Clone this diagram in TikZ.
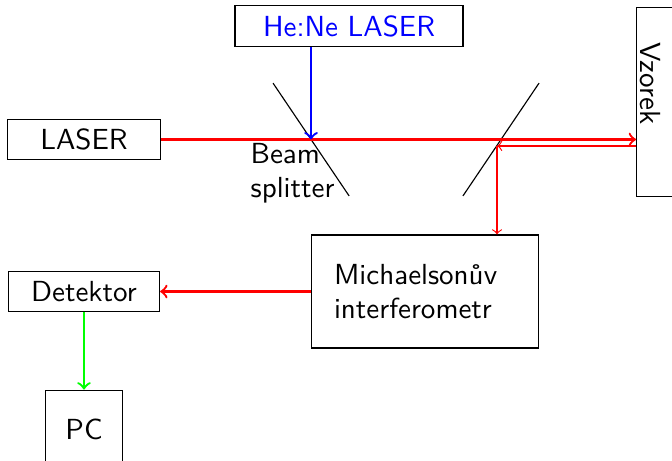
\documentclass[tikz,border=0pt]{standalone}
\usepackage{tikz}
\usetikzlibrary{positioning,calc}

\begin{document}
\begin{tikzpicture}[
    font=\sffamily\fontsize{10.2}{12.2}\selectfont,
    devbox/.style={draw, minimum width=1.88cm, minimum height=0.46cm},
    arrow/.style={->, thick},
    mirror/.style={draw, thin},
]
\useasboundingbox (0,0) rectangle (8.296,5.679);

\node[devbox] (laser) at (1.037,3.957) {LASER};
\node[devbox, text=blue, minimum width=2.815cm, minimum height=0.47cm] (hene) at (4.309,5.358) {He:Ne LASER};
\node[devbox, minimum width=1.865cm, below=1.37cm of laser] (detektor) {Detektor};
\node[devbox, minimum width=0.94cm, minimum height=0.96cm, below=0.96cm of detektor] (pc) {PC};
\node[devbox, text width=2.24cm, align=left, inner xsep=0.28cm, minimum height=1.395cm,
      right=1.86cm of detektor] (mich) {Michaelsonův\\interferometr};
\node[draw, rotate=-90, anchor=south west, text width=1.47cm, align=left, inner xsep=0.43cm,
      inner ysep=1.5pt, text height=1.2cm, text depth=0pt] (vzorek) at (7.852,5.593) {Vzorek};

% beam splitters
\coordinate (bs1) at (3.84,3.957);
\coordinate (bs2) at (6.185,3.957);
\coordinate (bsback) at (6.136,3.877);
\draw[mirror] ($(bs1)+(124:0.84)$) -- ($(bs1)+(-56:0.84)$);
\draw[mirror] ($(bs2)+(56:0.84)$) -- ($(bs2)+(236:0.84)$);
\node[align=left, anchor=north west] (bslabel) at ($(bs1)+(-0.87,0.08)$) {Beam\\splitter};

\draw[arrow, red] (laser) -- (laser -| vzorek.south);
\draw[arrow, blue] (hene.south -| bs1) -- (bs1);
\draw[->, red] (bsback -| vzorek.south) -- (bsback);
\draw[->, red] (bsback) -- (bsback |- mich.north);
\draw[arrow, red] (mich) -- (detektor);
\draw[arrow, green] (detektor) -- (pc);
\end{tikzpicture}
\end{document}
